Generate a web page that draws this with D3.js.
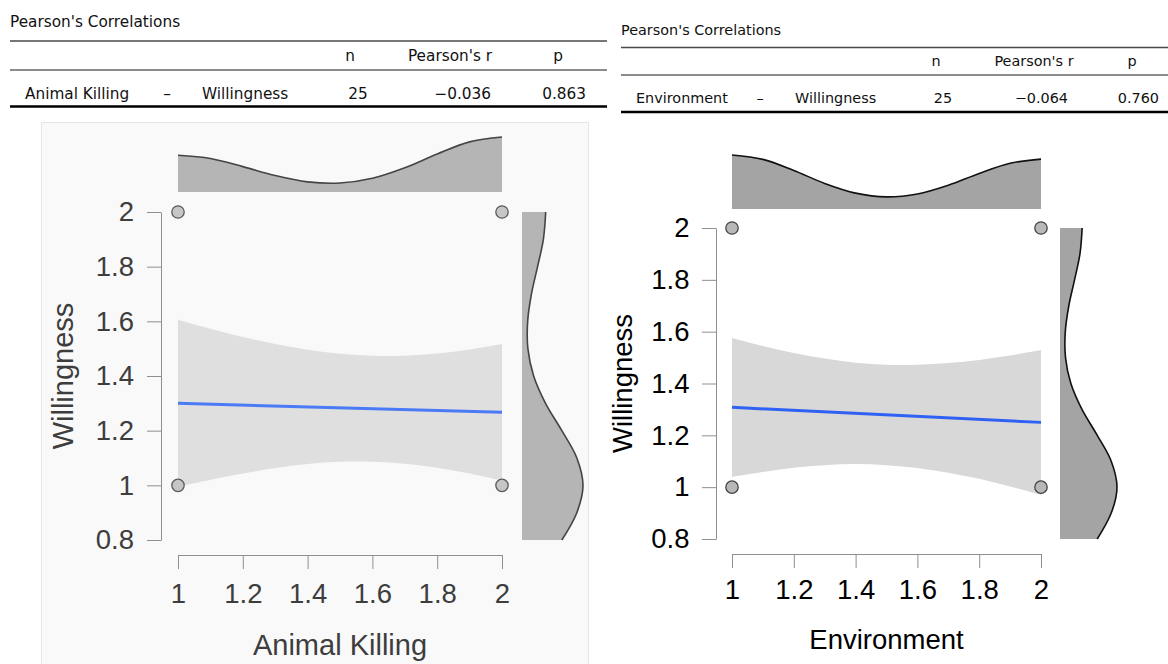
<!DOCTYPE html>
<html>
<head>
<meta charset="utf-8">
<script src="https://cdn.jsdelivr.net/npm/d3@7"></script>
<style>
body { margin: 0; background: #fff; }
svg { display: block; }
</style>
</head>
<body>
<svg id="chart" width="1168" height="664"></svg>
<script>
// sample positions for band + density curves
var gridX = [1, 1.1, 1.2, 1.3, 1.4, 1.5, 1.6, 1.7, 1.8, 1.9, 2];
var gridY = [0.8, 0.9, 1, 1.1, 1.2, 1.3, 1.4, 1.5, 1.6, 1.7, 1.8, 1.9, 2];

var xTicks = [1, 1.2, 1.4, 1.6, 1.8, 2];
var xTickLabels = ["1", "1.2", "1.4", "1.6", "1.8", "2"];
var yTicks = [0.8, 1, 1.2, 1.4, 1.6, 1.8, 2];
var yTickLabels = ["0.8", "1", "1.2", "1.4", "1.6", "1.8", "2"];

// the 25 answers only sit on four spots
var pointX = [1, 1, 2, 2];
var pointY = [1, 2, 1, 2];

// Animal Killing vs Willingness
var akLine = [1.300, 1.267];
var akUpper = [1.606, 1.573, 1.543, 1.517, 1.496, 1.481, 1.474, 1.474, 1.482, 1.497, 1.517];
var akLower = [0.994, 1.020, 1.043, 1.063, 1.078, 1.086, 1.086, 1.079, 1.064, 1.043, 1.017];
var akDensity = [0.689, 0.628, 0.477, 0.309, 0.191, 0.168, 0.257, 0.454, 0.713, 0.941, 1.033];

// Environment vs Willingness
var envLine = [1.308, 1.250];
var envUpper = [1.576, 1.545, 1.518, 1.496, 1.480, 1.472, 1.472, 1.479, 1.491, 1.508, 1.529];
var envLower = [1.040, 1.059, 1.075, 1.085, 1.089, 1.085, 1.074, 1.056, 1.032, 1.003, 0.971];
var envDensity = [0.860, 0.790, 0.613, 0.408, 0.253, 0.193, 0.240, 0.379, 0.567, 0.729, 0.794];

// Willingness marginal (same in both)
var willDensity = [0.865, 1.191, 1.325, 1.191, 0.866, 0.511, 0.253, 0.128, 0.123, 0.205, 0.338, 0.464, 0.515];

// tables
var tableTitle = "Pearson's Correlations";
var tableHeader = ["n", "Pearson's r", "p"];
var akRow = ["Animal Killing", "–", "Willingness", "25", "−0.036", "0.863"];
var envRow = ["Environment", "–", "Willingness", "25", "−0.064", "0.760"];

var svg = d3.select("#chart");
var tableFont = "'DejaVu Sans', Verdana, sans-serif";
var plotFont = "'Liberation Sans', Arial, sans-serif";

function drawTable(t) {
    var g = svg.append("g")
        .attr("font-family", tableFont)
        .attr("font-size", t.size)
        .attr("fill", "#111");

    g.append("text").attr("x", t.x0).attr("y", t.titleY).text(tableTitle);

    g.append("line").attr("x1", t.x0).attr("x2", t.x1).attr("y1", t.rule1).attr("y2", t.rule1)
        .attr("stroke", "#4a4a4a").attr("stroke-width", 1.5);
    g.append("line").attr("x1", t.x0).attr("x2", t.x1).attr("y1", t.rule2).attr("y2", t.rule2)
        .attr("stroke", "#666").attr("stroke-width", 1.5);
    g.append("line").attr("x1", t.x0).attr("x2", t.x1).attr("y1", t.rule3).attr("y2", t.rule3)
        .attr("stroke", "#000").attr("stroke-width", 2.5);

    g.selectAll(".head")
        .data(tableHeader)
        .enter()
        .append("text")
        .attr("x", function(d, i) { return t.headX[i]; })
        .attr("y", t.headY)
        .attr("text-anchor", "middle")
        .text(function(d) { return d; });

    g.selectAll(".cell")
        .data(t.row)
        .enter()
        .append("text")
        .attr("x", function(d, i) { return t.cellX[i]; })
        .attr("y", t.rowY)
        .attr("text-anchor", function(d, i) { return t.cellAnchor[i]; })
        .text(function(d) { return d; });
}

function drawPanel(p) {
    var g = svg.append("g").attr("font-family", plotFont);

    if (p.bg) {
        g.append("rect")
            .attr("x", 41.5).attr("y", 122.5)
            .attr("width", 547).attr("height", 560)
            .attr("fill", p.bg)
            .attr("stroke", "#e6e6e6");
    }

    var x = d3.scaleLinear().domain([1, 2]).range([p.x0, p.x1]);
    var y = d3.scaleLinear().domain([0.8, 2]).range([p.yBottom, p.yTop]);

    // top marginal density
    var dTop = d3.scaleLinear()
        .domain([0, d3.max(p.xDensity)])
        .range([p.topBase, p.topPeak]);
    var topArea = d3.area()
        .x(function(d, i) { return x(gridX[i]); })
        .y0(p.topBase)
        .y1(function(d) { return dTop(d); })
        .curve(d3.curveCatmullRom);
    g.append("path").datum(p.xDensity).attr("d", topArea).attr("fill", p.densFill);
    g.append("path").datum(p.xDensity).attr("d", topArea.lineY1())
        .attr("fill", "none").attr("stroke", p.densStroke).attr("stroke-width", 1.6);

    // side marginal density
    var dSide = d3.scaleLinear()
        .domain([0, d3.max(willDensity)])
        .range([p.sideBase, p.sidePeak]);
    var sideArea = d3.area()
        .y(function(d, i) { return y(gridY[i]); })
        .x0(p.sideBase)
        .x1(function(d) { return dSide(d); })
        .curve(d3.curveCatmullRom);
    g.append("path").datum(willDensity).attr("d", sideArea).attr("fill", p.densFill);
    g.append("path").datum(willDensity).attr("d", sideArea.lineX1())
        .attr("fill", "none").attr("stroke", p.densStroke).attr("stroke-width", 1.6);

    // confidence band
    var band = d3.area()
        .x(function(d, i) { return x(gridX[i]); })
        .y0(function(d, i) { return y(p.lower[i]); })
        .y1(function(d) { return y(d); })
        .curve(d3.curveCatmullRom);
    g.append("path").datum(p.upper).attr("d", band).attr("fill", p.bandFill);

    // regression line
    g.append("path")
        .datum(p.line)
        .attr("d", d3.line()
            .x(function(d, i) { return x([1, 2][i]); })
            .y(function(d) { return y(d); }))
        .attr("fill", "none")
        .attr("stroke", p.lineColor)
        .attr("stroke-width", 3);

    g.selectAll("circle")
        .data(pointX)
        .enter()
        .append("circle")
        .attr("cx", function(d) { return x(d); })
        .attr("cy", function(d, i) { return y(pointY[i]); })
        .attr("r", 6.2)
        .attr("fill", p.pointFill)
        .attr("stroke", p.pointStroke)
        .attr("stroke-width", 1.3);

    // axes
    var ya = g.append("g")
        .attr("transform", "translate(" + p.yAxisX + ",0)")
        .call(d3.axisLeft(y)
            .tickValues(yTicks)
            .tickSize(14)
            .tickSizeOuter(0)
            .tickPadding(p.yPad)
            .tickFormat(function(d, i) { return yTickLabels[i]; }));
    var xa = g.append("g")
        .attr("transform", "translate(0," + p.xAxisY + ")")
        .call(d3.axisBottom(x)
            .tickValues(xTicks)
            .tickSize(14)
            .tickSizeOuter(0)
            .tickFormat(function(d, i) { return xTickLabels[i]; }));

    [ya, xa].forEach(function(a) {
        a.attr("font-family", plotFont).attr("font-size", p.tickSize);
        a.selectAll("path, line").attr("stroke", "#8f8f8f").attr("stroke-width", 1);
        a.selectAll("text").attr("fill", p.textColor);
    });
    xa.selectAll("text").attr("y", p.xLabelY).attr("dy", 0);

    g.append("text")
        .attr("x", (p.x0 + p.x1) / 2)
        .attr("y", p.xTitleY)
        .attr("text-anchor", "middle")
        .attr("font-size", p.titleSize)
        .attr("fill", p.textColor)
        .text(p.xTitle);

    g.append("text")
        .attr("transform", "translate(" + p.yTitleX + "," + (p.yTop + p.yBottom) / 2 + ") rotate(-90)")
        .attr("text-anchor", "middle")
        .attr("font-size", p.titleSize)
        .attr("fill", p.textColor)
        .text("Willingness");
}

drawTable({
    x0: 10, x1: 607, size: 15.3,
    titleY: 27, rule1: 41, headY: 61, rule2: 70, rowY: 99, rule3: 106.5,
    headX: [350, 450, 558],
    row: akRow,
    cellX: [25, 167, 202, 358, 491, 586],
    cellAnchor: ["start", "middle", "start", "middle", "end", "end"]
});

drawTable({
    x0: 621, x1: 1168, size: 14.4,
    titleY: 35, rule1: 47.5, headY: 66, rule2: 75, rowY: 102.5, rule3: 112,
    headX: [936, 1034, 1132],
    row: envRow,
    cellX: [636, 760, 795, 943, 1068, 1159],
    cellAnchor: ["start", "middle", "start", "middle", "end", "end"]
});

drawPanel({
    bg: "#f9f9f9",
    x0: 178, x1: 502, yTop: 212, yBottom: 540,
    yAxisX: 161, xAxisY: 555, yPad: 13, xLabelY: 48,
    topBase: 192, topPeak: 137,
    sideBase: 522, sidePeak: 583,
    xDensity: akDensity, upper: akUpper, lower: akLower, line: akLine,
    densFill: "#b5b5b5", densStroke: "#444", bandFill: "#dfdfdf",
    lineColor: "#4a7af5", pointFill: "#c6c6c6", pointStroke: "#5a5a5a",
    textColor: "#3d3d3d", tickSize: 27.5, titleSize: 29,
    xTitle: "Animal Killing", xTitleY: 655, yTitleX: 73
});

drawPanel({
    bg: null,
    x0: 732, x1: 1041, yTop: 228, yBottom: 539,
    yAxisX: 716, xAxisY: 554, yPad: 12.5, xLabelY: 45,
    topBase: 209, topPeak: 155,
    sideBase: 1060, sidePeak: 1117,
    xDensity: envDensity, upper: envUpper, lower: envLower, line: envLine,
    densFill: "#a4a4a4", densStroke: "#111", bandFill: "#d8d8d8",
    lineColor: "#2f62f4", pointFill: "#b8b8b8", pointStroke: "#444",
    textColor: "#000", tickSize: 27.5, titleSize: 27.5,
    xTitle: "Environment", xTitleY: 649, yTitleX: 632
});
</script>
</body>
</html>
